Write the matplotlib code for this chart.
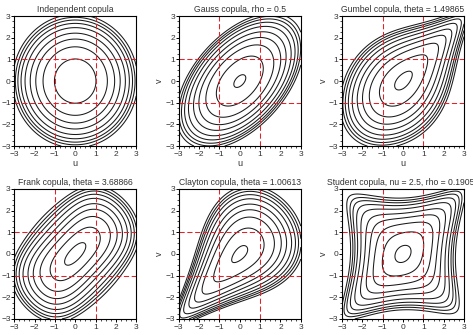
import math
import numpy as np
import matplotlib
matplotlib.use("Agg")
import matplotlib.pyplot as plt
from matplotlib.ticker import AutoMinorLocator

plt.rcParams['font.family'] = ['Liberation Sans', 'DejaVu Sans']

titles = ["Independent copula", "Gauss copula, rho = 0.5", "Gumbel copula, theta = 1.49865",
          "Frank copula, theta = 3.68866", "Clayton copula, theta = 1.00613",
          "Student copula, nu = 2.5, rho = 0.19054"]
gauss_rho = 0.5
gumbel_theta = 1.49865
frank_theta = 3.68866
clayton_theta = 1.00613
student_nu = 2.5
student_rho = 0.19054

# iso-density levels (same for every panel)
levels = [0.0014, 0.0021, 0.0030, 0.0046, 0.0076, 0.0138, 0.0243, 0.0456, 0.0945, 0.176]
ref_lines = [-1, 1]
ticks = [-3, -2, -1, 0, 1, 2, 3]

s = np.linspace(-3, 3, 241)
S, T = np.meshgrid(s, s)
erf = np.vectorize(math.erf)
U = 0.5 * (1 + erf(S / math.sqrt(2)))
V = 0.5 * (1 + erf(T / math.sqrt(2)))
phi = np.exp(-0.5 * (S**2 + T**2)) / (2 * np.pi)


def gauss_c(r):
    q = (S**2 - 2 * r * S * T + T**2) / (1 - r**2)
    return np.exp(-0.5 * q) / (2 * np.pi * np.sqrt(1 - r**2)) / phi


def gumbel_c(th):
    x = -np.log(U)
    y = -np.log(V)
    a = x**th + y**th
    c = np.exp(-a**(1 / th))
    return c / (U * V) * (x * y)**(th - 1) * a**(2 / th - 2) * (1 + (th - 1) * a**(-1 / th))


def frank_c(th):
    e = 1 - np.exp(-th)
    num = th * e * np.exp(-th * (U + V))
    den = (e - (1 - np.exp(-th * U)) * (1 - np.exp(-th * V)))**2
    return num / den


def clayton_c(th):
    return (1 + th) * (U * V)**(-th - 1) * (U**-th + V**-th - 1)**(-2 - 1 / th)


def student_c(nu, r):
    # inverse t cdf through x = sqrt(nu) tan(a)
    a = np.linspace(-np.pi / 2, np.pi / 2, 200001)
    g = np.cos(a)**(nu - 1)
    cdf = np.concatenate([[0], np.cumsum(0.5 * (g[1:] + g[:-1]) * np.diff(a))])
    cdf /= cdf[-1]
    x = np.sqrt(nu) * np.tan(np.interp(U, cdf, a))
    y = np.sqrt(nu) * np.tan(np.interp(V, cdf, a))
    k = math.gamma((nu + 1) / 2) / (math.sqrt(nu * math.pi) * math.gamma(nu / 2))
    t1x = k * (1 + x**2 / nu)**(-(nu + 1) / 2)
    t1y = k * (1 + y**2 / nu)**(-(nu + 1) / 2)
    q = (x**2 - 2 * r * x * y + y**2) / (1 - r**2)
    t2 = (1 + q / nu)**(-(nu + 2) / 2) / (2 * np.pi * np.sqrt(1 - r**2))
    return t2 / (t1x * t1y)


dens = [np.ones_like(S), gauss_c(gauss_rho), gumbel_c(gumbel_theta),
        frank_c(frank_theta), clayton_c(clayton_theta), student_c(student_nu, student_rho)]

txt = '#333333'
fig = plt.figure(figsize=(4.73, 3.35), dpi=100)
lefts = [0.030, 0.378, 0.723]
bottoms = [0.564, 0.048]
for i in range(6):
    ax = fig.add_axes([lefts[i % 3], bottoms[i // 3], 0.258, 0.388])
    ax.contour(S, T, dens[i] * phi, levels=levels, colors='#1a1a1a', linewidths=0.75)
    for r in ref_lines:
        ax.axvline(r, color='#e8202a', lw=0.75, ls=(0, (5, 2.5)))
        ax.axhline(r, color='#e8202a', lw=0.75, ls=(0, (5, 2.5)))
    ax.set_xlim(-3, 3)
    ax.set_ylim(-3, 3)
    ax.set_xticks(ticks)
    ax.set_yticks(ticks)
    ax.xaxis.set_minor_locator(AutoMinorLocator(4))
    ax.yaxis.set_minor_locator(AutoMinorLocator(4))
    ax.tick_params(which='major', direction='out', length=2.5, width=0.7, labelsize=6, pad=1,
                   labelcolor=txt)
    ax.tick_params(which='minor', direction='out', length=1.3, width=0.5)
    ax.tick_params(axis='y', pad=0)
    for sp in ax.spines.values():
        sp.set_linewidth(0.8)
    ax.set_title(titles[i], fontsize=6.2, pad=3, color=txt)
    if i < 3:
        ax.set_xlabel('u', fontsize=6.5, labelpad=1, color=txt)
    ax.set_ylabel('v', fontsize=6.5, labelpad=1, color=txt)

fig.savefig('out.png', dpi=100)
